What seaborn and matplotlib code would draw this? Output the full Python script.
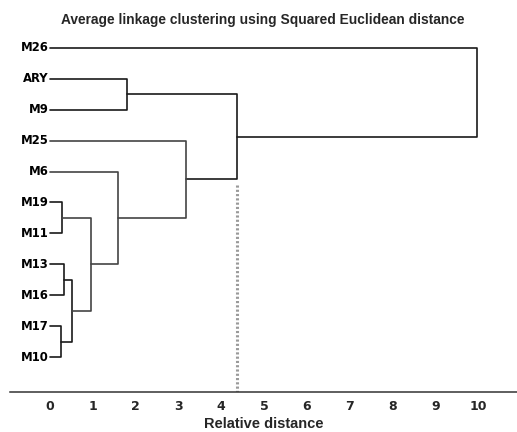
import numpy as np
import pandas as pd
import matplotlib
matplotlib.use("Agg")
import matplotlib.pyplot as plt
import seaborn as sns

# ---- data ----
leaves = ["M26", "ARY", "M9", "M25", "M6", "M19", "M11", "M13", "M16", "M17", "M10"]
cluster_ids = ["C1", "C2", "C3", "C4", "C5", "C6", "C7", "C8", "C9", "C10"]
node_a = ["M19", "M13", "M17", "C2", "C1", "M6", "M25", "ARY", "C8", "M26"]
node_b = ["M11", "M16", "M10", "C3", "C4", "C5", "C6", "M9", "C7", "C9"]
heights = [0.29, 0.33, 0.26, 0.52, 0.96, 1.58, 3.17, 1.81, 4.36, 9.98]
gray_links = ["C5", "C6", "C7"]
cut_distance = 4.36
x_ticks = [0, 1, 2, 3, 4, 5, 6, 7, 8, 9, 10]

# ---- build dendrogram segments ----
pos = {name: float(i) for i, name in enumerate(leaves)}
hgt = {name: 0.0 for name in leaves}
rows = []
for cid, a, b, h in zip(cluster_ids, node_a, node_b, heights):
    ya, yb = pos[a], pos[b]
    xs = [hgt[a], h, h, hgt[b]]
    ys = [ya, ya, yb, yb]
    grp = "gray" if cid in gray_links else "black"
    for k, (xx, yy) in enumerate(zip(xs, ys)):
        rows.append({"x": xx, "y": yy, "seg": cid, "order": k, "grp": grp})
    pos[cid] = (ya + yb) / 2.0
    hgt[cid] = h
df = pd.DataFrame(rows)

sns.set_style("white")
plt.rcParams["font.family"] = ["DejaVu Sans"]

W, H = 517, 432
fig = plt.figure(figsize=(W / 100, H / 100), dpi=100)
ax = fig.add_axes([10 / W, (H - 392) / H, 507 / W, (392 - 30) / H])

for grp, col in [("black", "#1a1a1a"), ("gray", "#444444")]:
    sub = df[df["grp"] == grp]
    sns.lineplot(data=sub, x="x", y="y", units="seg", estimator=None,
                 sort=False, color=col, linewidth=1.2, ax=ax, legend=False)

# cut line
ax.plot([cut_distance, cut_distance], [4.43, 11.3], color="#9a9a9a",
        linestyle=(0, (0.7, 0.7)), linewidth=2.2, zorder=1)

# leaf labels
for i, name in enumerate(leaves):
    ax.text(-0.03, i, name, ha="right", va="center", fontsize=8.4,
            fontweight="bold", color="black")

x0 = (10 - 50) / 42.8
x1 = (517 - 50) / 42.8
ax.set_xlim(x0, x1)
ax.set_ylim(11.13, -0.58)

ax.set_xticks(x_ticks)
ax.set_xticklabels([str(t) for t in x_ticks], fontsize=9, fontweight="bold")
ax.set_yticks([])
ax.tick_params(axis="x", direction="out", length=2.5, width=1, color="#333",
               pad=3)
for s in ["top", "right", "left"]:
    ax.spines[s].set_visible(False)
ax.spines["bottom"].set_color("#333")
ax.spines["bottom"].set_linewidth(1.1)

ax.set_xlabel("Relative distance", fontsize=10.5, fontweight="bold",
              family=["Liberation Sans", "DejaVu Sans"], labelpad=3)
ax.set_ylabel("")

fig.text(263 / W, 1 - 20 / H, "Average linkage clustering using Squared Euclidean distance",
         ha="center", va="center", fontsize=9.9, fontweight="bold",
         family=["Liberation Sans", "DejaVu Sans"])

fig.savefig("out.png", dpi=100)
